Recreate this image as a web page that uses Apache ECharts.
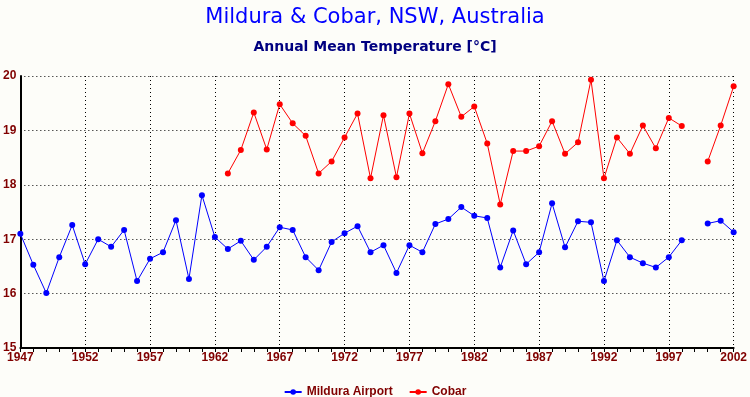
<!DOCTYPE html>
<html>
<head>
<meta charset="utf-8">
<script src="https://cdn.jsdelivr.net/npm/echarts@6/dist/echarts.min.js"></script>
<style>
html,body{margin:0;padding:0;background:#fdfdf9;}
#c{width:750px;height:397px;}
</style>
</head>
<body>
<div id="c"></div>
<script>
var years = [];
for (var y = 1947; y <= 2002; y++) years.push(String(y));

var mildura = [17.10,16.53,16.01,16.67,17.26,16.54,17.00,16.86,17.17,16.23,
  16.64,16.76,17.35,16.27,17.81,17.04,16.82,16.97,16.62,16.86,
  17.22,17.17,16.67,16.43,16.95,17.11,17.24,16.76,16.89,16.38,
  16.89,16.76,17.28,17.37,17.59,17.43,17.39,16.48,17.16,16.54,
  16.76,17.66,16.85,17.33,17.31,16.23,16.98,16.67,16.56,16.48,
  16.67,16.98,null,17.29,17.34,17.13];

var cobar = [null,null,null,null,null,null,null,null,null,null,
  null,null,null,null,null,null,18.21,18.64,19.33,18.65,
  19.48,19.13,18.90,18.21,18.43,18.87,19.31,18.12,19.28,18.14,
  19.31,18.58,19.17,19.85,19.25,19.44,18.76,17.64,18.62,18.62,
  18.71,19.17,18.57,18.78,19.93,18.12,18.87,18.57,19.09,18.67,
  19.23,19.08,null,18.43,19.09,19.81];

var chart = echarts.init(document.getElementById('c'), null, {renderer:'canvas'});
chart.setOption({
  backgroundColor: '#fdfdf9',
  animation: false,
  title: [
    {text: 'Mildura & Cobar, NSW, Australia', left: 'center', top: 2,
     textStyle: {color: '#0000ff', fontSize: 21, fontWeight: 'normal', fontFamily: '"DejaVu Sans", sans-serif'}},
    {text: 'Annual Mean Temperature [°C]', left: 'center', top: 35,
     textStyle: {color: '#000080', fontSize: 14, fontWeight: 'bold', fontFamily: '"DejaVu Sans", sans-serif'}}
  ],
  legend: {
    top: 381, left: 'center', itemGap: 16, itemWidth: 17, itemHeight: 7,
    textStyle: {color: '#800000', fontWeight: 'bold', fontSize: 12, fontFamily: 'Arial, "Liberation Sans", sans-serif'},
    data: ['Mildura Airport', 'Cobar']
  },
  grid: {left: 20, right: 14, top: 76, bottom: 49, containLabel: false},
  xAxis: {
    type: 'category', data: years, boundaryGap: false,
    axisLine: {lineStyle: {color: '#000', width: 2}},
    axisTick: {show: true, interval: 0, length: 4, lineStyle: {color: '#000', width: 1}},
    axisLabel: {interval: 4, color: '#800000', fontWeight: 'bold', fontSize: 12, margin: 4,
      fontFamily: 'Arial, "Liberation Sans", sans-serif'},
    splitLine: {show: true, interval: 4, lineStyle: {color: '#000', type: [1, 3], width: 1}}
  },
  yAxis: {
    type: 'value', min: 15, max: 20, interval: 1,
    axisLine: {show: true, lineStyle: {color: '#000', width: 2}},
    axisTick: {show: false},
    axisLabel: {color: '#800000', fontWeight: 'bold', fontSize: 12, margin: 4,
      fontFamily: 'Arial, "Liberation Sans", sans-serif'},
    splitLine: {show: true, lineStyle: {color: '#000', type: [1, 3], width: 1}}
  },
  series: [
    {name: 'Mildura Airport', type: 'line', data: mildura, connectNulls: false,
     symbol: 'circle', symbolSize: 6, showAllSymbol: true,
     itemStyle: {color: '#0000ff'}, lineStyle: {color: '#0000ff', width: 1}},
    {name: 'Cobar', type: 'line', data: cobar, connectNulls: false,
     symbol: 'circle', symbolSize: 6, showAllSymbol: true,
     itemStyle: {color: '#ff0000'}, lineStyle: {color: '#ff0000', width: 1}}
  ]
});
</script>
</body>
</html>
